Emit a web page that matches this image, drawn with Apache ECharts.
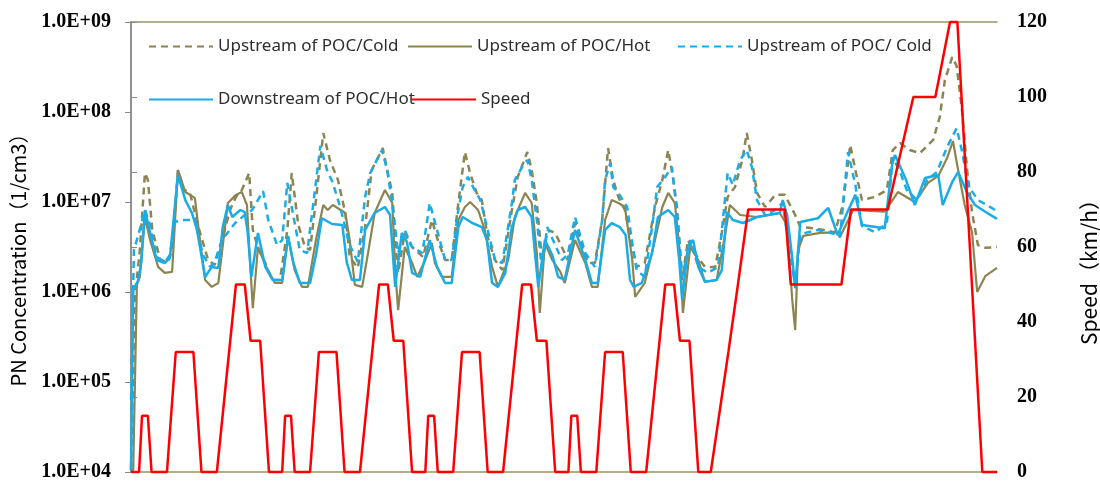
<!DOCTYPE html>
<html><head><meta charset="utf-8">
<script src="https://cdn.jsdelivr.net/npm/echarts@6/dist/echarts.min.js"></script>
<style>html,body{margin:0;padding:0;background:#fff}#c{width:1100px;height:483px}</style>
</head><body><div id="c"></div>
<script>
// time in seconds (NEDC-like driving cycle); concentrations in millions of particles per cm3
const tUpCold = [0,5,12,19,23,29,40,50,56,64,72,80,91,105,114,124,135,143,151,161,166,173,183,192,203,213,219,228,237,244,252,262,271,282,292,298,309,319,328,337,343,350,356,360,364,373,383,398,410,418,428,437,446,455,462,471,478,486,496,506,519,527,540,546,553,560,568,578,587,595,605,615,623,632,642,650,657,664,673,683,689,700,714,724,732,739,744,751,759,768,782,796,805,813,823,833,839,846,853,864,878,891,898,905,912,932,959,970,980,989,996,1014,1030,1038,1048,1061,1075,1093,1102,1109,1119,1125,1132,1139,1146,1154,1164,1180];
const upColdM = [0.0105,0.815,2.93,21,17.6,4.89,2.27,2.15,2.93,22.7,13.6,12.9,5.55,2.27,2.0,3.78,8.15,11.4,13.6,21,4.89,3.1,2.1,1.36,1.36,4.89,21,5.55,3.16,2.93,10.5,58.4,29.3,17.6,7.55,2.45,1.85,5.27,22.7,31.6,39.8,21,12.6,3.78,1.63,4.53,3.16,2.45,6.31,3.78,2.27,2.27,9.75,35.9,21,12.6,10.5,4.08,2.27,1.75,8.15,19,35.9,22.7,9.75,2.27,4.89,4.53,3.16,2.27,5.84,3.16,2.1,2.1,6.31,39.8,17.6,11.4,8.15,3.16,1.9,2.1,8.8,17.6,37.8,17.6,8.8,1.36,3.78,2.71,1.9,1.9,4.53,11.4,14.7,29.3,58.4,29.3,12.6,8.8,12,12,9.26,7.17,5.27,5.1,4.6,9.26,43,19,10.5,11.4,13.6,37.8,45.3,37.8,35,48.9,88,227,408,324,111,23.9,7.7,3.33,3.1,3.16];

const tUpHot = [0,3,8,12,19,26,37,46,56,64,74,87,94,101,110,119,132,143,151,158,162,166,173,183,196,206,214,223,233,241,252,262,268,275,292,298,305,315,323,332,346,356,360,364,373,383,390,401,410,414,424,437,446,455,462,473,482,492,500,514,523,537,546,553,557,564,574,585,591,605,619,628,636,646,655,664,673,683,687,700,714,724,732,741,748,752,762,773,782,798,809,816,830,853,884,894,901,905,909,916,939,962,966,984,1027,1045,1068,1086,1100,1112,1120,1127,1136,1146,1153,1164,1180];
const upHotM = [0.0105,0.0105,1.2,1.47,6.81,3.78,1.9,1.63,1.67,22.7,12.9,11.1,3.78,1.36,1.14,1.26,9.75,12,12.9,9.26,2.27,0.66,3.16,2.0,1.26,1.26,4.08,1.75,1.14,1.14,3.78,9.26,8.15,9.26,7.55,3.78,1.2,1.14,2.71,7.55,13.6,9.75,1.75,0.63,3.16,2.1,1.47,2.27,3.5,2.1,1.47,1.47,6.31,8.8,10,8.15,4.89,1.9,1.14,2.27,6.81,12.6,9.75,2.71,0.585,3.5,2.27,1.67,1.26,3.78,2.1,1.14,1.14,6.31,10.5,9.75,8.8,2.27,0.88,1.26,3.78,8.8,12.6,9.75,2.71,0.585,3.16,2.27,1.3,1.36,4.08,9.26,7.17,6.81,7.55,5.55,0.815,0.378,2.93,4.2,4.53,4.6,4.08,8.15,7.8,12.9,10,16.3,19.5,30.8,47.6,22.7,9.26,4.6,1.0,1.5,1.85];

const tUpCold2 = [0,4,10,19,26,35,46,53,60,69,87,98,108,114,124,142,155,165,180,187,199,206,213,221,230,240,249,258,267,275,285,298,309,319,326,335,342,349,356,364,373,383,397,407,417,428,437,446,452,459,466,476,486,496,506,519,523,533,540,546,553,560,567,575,587,595,605,619,632,642,646,653,657,664,676,683,689,700,710,717,728,737,744,751,762,773,786,800,813,820,830,839,846,853,864,878,888,895,905,912,936,959,966,977,987,996,1014,1030,1038,1048,1057,1071,1085,1098,1112,1125,1132,1141,1154,1166,1180];
const upCold2M = [0.063,2.93,4.3,8.15,5.55,2.45,2.15,2.58,6.0,6.31,6.31,2.58,1.9,2.15,3.78,5.84,7.17,8.15,13.2,6.31,3.33,3.78,16.3,7.17,2.93,2.71,10.5,41.9,22.7,16.3,8.8,3.33,2.15,11.4,21,29.3,37.8,22.7,9.75,2.71,4.89,3.16,2.71,9.75,4.89,2.27,2.27,8.15,14.7,19,14.7,10.5,4.89,2.27,2.1,9.75,17.6,24.5,29.3,17.6,6.31,1.75,5.27,3.78,2.27,2.58,6.81,2.71,1.9,6.31,17.6,27,14.7,12.6,8.8,3.5,1.75,1.47,5.27,14.7,19,24.5,7.55,1.47,3.78,1.9,1.63,1.9,21,15.5,29.3,37.8,24.5,10.5,7.17,8.15,9.75,3.78,1.17,4.4,4.89,4.4,4.08,35.9,15.5,5.4,4.6,5.84,31.6,21.5,13.6,10.5,17.6,21.5,40.8,66,37.8,15.1,10.5,9.26,7.9];

const tDnHot = [0,3,10,14,19,26,35,46,53,64,74,83,90,101,110,119,125,132,138,149,155,159,164,173,183,193,206,214,221,230,244,252,260,274,288,294,301,312,319,332,346,353,360,369,376,383,394,407,417,428,437,446,452,465,478,485,492,500,510,519,527,537,546,550,555,564,574,582,591,605,619,628,636,646,655,666,674,680,685,696,710,718,732,741,747,751,759,766,773,782,798,805,812,820,834,853,884,888,894,901,905,912,936,950,963,976,987,996,1027,1037,1041,1055,1068,1082,1100,1106,1119,1127,1139,1150,1164,1180];
const dnHotM = [0.0105,1.05,1.36,2.15,8.15,4.6,2.27,2.1,2.39,20,10.5,7.55,4.89,1.47,1.9,1.85,5.27,9.26,6.81,8.15,7.7,4.6,1.47,4.53,1.9,1.36,1.36,4.2,2.15,1.26,1.26,2.58,6.6,5.7,5.55,2.15,1.36,1.36,4.89,7.55,8.8,7.17,1.14,4.53,3.6,1.63,1.47,3.78,1.9,1.26,1.26,5.27,6.81,5.84,5.27,3.78,1.26,1.14,1.63,5.27,8.15,8.8,6.81,2.93,1.14,3.78,2.58,1.47,1.36,4.89,2.27,1.26,1.26,4.89,5.84,5.27,4.3,1.36,1.14,1.26,2.71,6.81,8.15,6.81,2.27,0.82,3.16,3.78,1.9,1.3,1.36,1.75,7.7,6.31,5.84,6.81,7.55,10.5,7.17,2.39,1.1,6.0,6.6,8.58,4.3,7.7,12,5.55,5.1,25.8,33.3,18.5,9.26,18.5,20,9.26,16.7,21.5,12.9,9.26,7.8,6.5];

const speedT = [0,11,15,23,28,49,61,85,96,117,143,155,163,176,188, 195,206,210,218,223,244,256,280,291,312,338,350,358,371,383, 390,401,405,413,418,439,451,475,486,507,533,545,553,566,578, 585,596,600,608,613,634,646,670,681,702,728,740,748,761,773, 790,814,827,841,891,899,968,981,1031,1066,1096,1116,1126,1160,1180];
const speedV = [0,0,15,15,0,0,32,32,0,0,50,50,35,35,0, 0,0,15,15,0,0,32,32,0,0,50,50,35,35,0, 0,0,15,15,0,0,32,32,0,0,50,50,35,35,0, 0,0,15,15,0,0,32,32,0,0,50,50,35,35,0, 0,32,50,70,70,50,50,70,70,100,100,120,120,0,0];

const seriesNames = ['Upstream of POC/Cold','Upstream of POC/Hot','Upstream of POC/ Cold','Downstream of POC/Hot','Speed'];

const OLIVE = '#8C8452', BLUE = '#19ACE6', RED = '#FF0000';
function pairs(t, v, scale) { return t.map((x, i) => [x, v[i] * scale]); }

const chart = echarts.init(document.getElementById('c'), null, {renderer: 'canvas'});
const legendText = {fontFamily: '"Noto Sans", "Noto Sans CJK SC", sans-serif', fontSize: 17, color: '#2e2e2e'};
function leg(name, left, top) {
  return {data: [name], left: left, top: top, itemWidth: 64, itemHeight: 14, padding: 0,
          selectedMode: false, textStyle: legendText, itemStyle: {opacity: 0}};
}
const tickFont = {fontFamily: '"Liberation Serif", "Times New Roman", serif', fontWeight: 'bold', fontSize: 20, color: '#000'};
const xBase = {type: 'value', min: 0, max: 1180,
  axisLine: {show: true, onZero: false, lineStyle: {color: '#9C9266', width: 1.5}},
  axisTick: {show: false}, axisLabel: {show: false}, splitLine: {show: false}};

chart.setOption({
  animation: false,
  backgroundColor: '#fff',
  grid: {left: 131, right: 103, top: 22, bottom: 11, containLabel: false, outerBoundsMode: 'none'},
  legend: [leg(seriesNames[0], 148, 38), leg(seriesNames[1], 407, 38), leg(seriesNames[2], 677, 38),
           leg(seriesNames[3], 148, 91), leg(seriesNames[4], 411, 91)],
  xAxis: [Object.assign({position: 'bottom'}, xBase), Object.assign({position: 'top'}, xBase)],
  yAxis: [{
    type: 'log', logBase: 10, min: 1e4, max: 1e9, position: 'left',
    axisLine: {show: true, lineStyle: {color: '#8A8A8A', width: 1.5}},
    axisTick: {show: true, length: 6, lineStyle: {color: '#8A8A8A'}},
    splitLine: {show: false},
    axisLabel: Object.assign({margin: 20, formatter: v => {
      const e = Math.round(Math.log10(v)); return '1.0E+' + (e < 10 ? '0' : '') + e; }}, tickFont),
    name: 'PN Concentration（1/cm3）', nameLocation: 'middle', nameRotate: 90, nameGap: 103,
    nameTextStyle: {fontFamily: '"Noto Sans CJK SC", "Noto Sans", sans-serif', fontSize: 20, color: '#000', padding: [0, 16, 0, 0]}
  }, {
    type: 'value', min: 0, max: 120, interval: 20, position: 'right',
    axisLine: {show: true, lineStyle: {color: '#8A8A8A', width: 1.5}},
    axisTick: {show: true, length: 6, lineStyle: {color: '#8A8A8A'}},
    splitLine: {show: false},
    axisLabel: Object.assign({margin: 20}, tickFont),
    name: 'Speed（km/h）', nameLocation: 'middle', nameRotate: 90, nameGap: 82,
    nameTextStyle: {fontFamily: '"Noto Sans CJK SC", "Noto Sans", sans-serif', fontSize: 21, color: '#000', padding: [0, 40, 0, 0]}
  }],
  series: [
    {name: seriesNames[0], type: 'line', yAxisIndex: 0, data: pairs(tUpCold, upColdM, 1e6), symbol: 'none',
     itemStyle: {color: OLIVE}, lineStyle: {color: OLIVE, width: 2.5, type: [7, 5]}},
    {name: seriesNames[1], type: 'line', yAxisIndex: 0, data: pairs(tUpHot, upHotM, 1e6), symbol: 'none',
     itemStyle: {color: OLIVE}, lineStyle: {color: OLIVE, width: 2.2}},
    {name: seriesNames[2], type: 'line', yAxisIndex: 0, data: pairs(tUpCold2, upCold2M, 1e6), symbol: 'none',
     itemStyle: {color: BLUE}, lineStyle: {color: BLUE, width: 2.5, type: [7, 5]}},
    {name: seriesNames[3], type: 'line', yAxisIndex: 0, data: pairs(tDnHot, dnHotM, 1e6), symbol: 'none',
     itemStyle: {color: BLUE}, lineStyle: {color: BLUE, width: 2.5}},
    {name: seriesNames[4], type: 'line', yAxisIndex: 1, data: speedT.map((t, i) => [t, speedV[i]]), symbol: 'none',
     itemStyle: {color: RED}, lineStyle: {color: RED, width: 2.5}, clip: false}
  ]
});
</script></body></html>
